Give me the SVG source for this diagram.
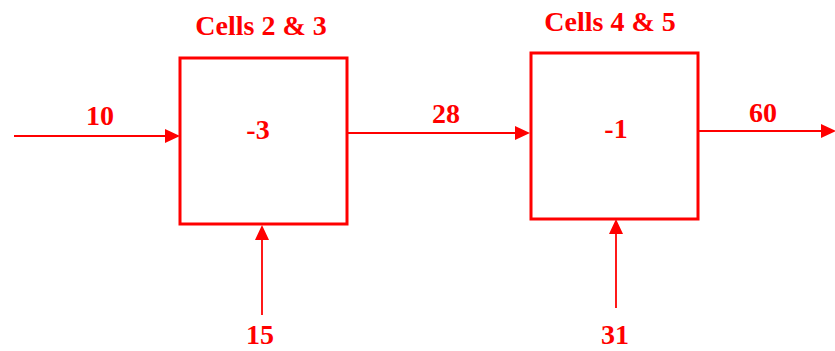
<svg xmlns="http://www.w3.org/2000/svg" width="835" height="351" viewBox="0 0 835 351">
<style>
text{font-family:"Liberation Serif","Times New Roman",serif;font-weight:bold;font-size:28px;fill:#ff0000;text-anchor:middle}
.box{fill:#fff;stroke:#ff0000;stroke-width:3}
.conn{stroke:#ff0000;stroke-width:1.8;fill:none}
.head{fill:#ff0000}
</style>
<rect width="835" height="351" fill="#fff"/>
<g id="connectors">
<line class="conn" x1="14" y1="136" x2="166" y2="136"/>
<polygon class="head" points="165,129 180,136 165,143"/>
<line class="conn" x1="347" y1="133" x2="516" y2="133"/>
<polygon class="head" points="515,126 530,133 515,140"/>
<line class="conn" x1="698" y1="131" x2="822" y2="131"/>
<polygon class="head" points="821,124 836,131 821,138"/>
<line class="conn" x1="262" y1="315" x2="262" y2="238"/>
<polygon class="head" points="255,240 262,225 269,240"/>
<line class="conn" x1="616" y1="308" x2="616" y2="232"/>
<polygon class="head" points="609,234 616,219 623,234"/>
<text x="100" y="125">10</text>
<text x="446" y="123">28</text>
<text x="763" y="122">60</text>
<text x="260" y="344">15</text>
<text x="615" y="344">31</text>
</g>
<g id="node1">
<rect class="box" x="180" y="58" width="167" height="166"/>
<text x="261" y="35">Cells 2 &amp; 3</text>
<text x="258" y="139">-3</text>
</g>
<g id="node2">
<rect class="box" x="531" y="53" width="167" height="166"/>
<text x="610" y="31">Cells 4 &amp; 5</text>
<text x="616" y="138">-1</text>
</g>
</svg>
